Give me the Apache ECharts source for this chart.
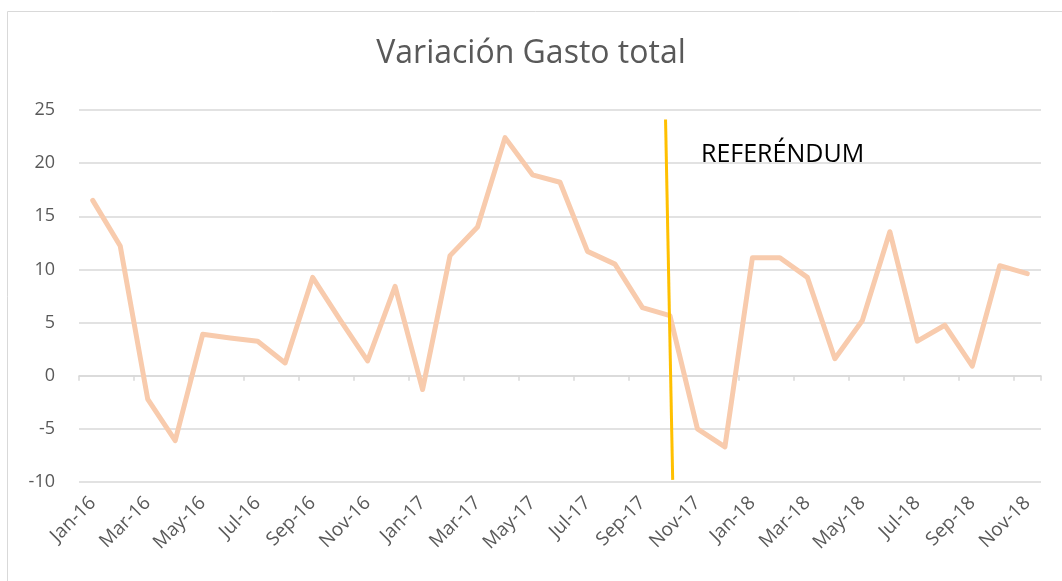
<!DOCTYPE html>
<html>
<head>
<meta charset="utf-8">
<title>Variación Gasto total</title>
<script src="https://cdn.jsdelivr.net/npm/echarts@6/dist/echarts.min.js"></script>
<style>
  html, body { margin: 0; padding: 0; background: #fff; }
  #chart { width: 1062px; height: 581px; }
</style>
</head>
<body>
<div id="chart"></div>
<script>
// meses (eje x)
var meses = [
    'Jan-16', 'Feb-16', 'Mar-16', 'Apr-16', 'May-16', 'Jun-16', 'Jul-16', 'Aug-16', 'Sep-16', 'Oct-16', 'Nov-16', 'Dec-16',
    'Jan-17', 'Feb-17', 'Mar-17', 'Apr-17', 'May-17', 'Jun-17', 'Jul-17', 'Aug-17', 'Sep-17', 'Oct-17', 'Nov-17', 'Dec-17',
    'Jan-18', 'Feb-18', 'Mar-18', 'Apr-18', 'May-18', 'Jun-18', 'Jul-18', 'Aug-18', 'Sep-18', 'Oct-18', 'Nov-18'
];
// variación gasto total (%)
var gastoTotal = [
    16.5, 12.2, -2.2, -6.1, 3.9, 3.55, 3.25, 1.2, 9.25, 5.25, 1.4, 8.4,
    -1.3, 11.3, 14.0, 22.4, 18.9, 18.2, 11.7, 10.5, 6.4, 5.65, -5.0, -6.7,
    11.1, 11.1, 9.25, 1.6, 5.2, 13.55, 3.25, 4.75, 0.9, 10.35, 9.6
];
// línea del referéndum [posición mes, valor]
var lineaReferendum = [[20.84, 24.1], [21.1, -9.8]];
var textoReferendum = 'REFERÉNDUM';

var chart = echarts.init(document.getElementById('chart'));
var fuente = '"Open Sans", sans-serif';

chart.setOption({
    animation: false,
    title: {
        text: 'Variación Gasto total',
        left: 'center',
        top: 33,
        textStyle: {
            fontFamily: fuente,
            fontSize: 32,
            fontWeight: 'normal',
            color: '#595959'
        }
    },
    grid: {
        left: 79,
        right: 21,
        top: 110,
        bottom: 99
    },
    xAxis: [{
        type: 'category',
        data: meses,
        position: 'bottom',
        axisLine: { show: false, onZero: false },
        axisTick: { show: false },
        splitLine: { show: false },
        axisLabel: {
            interval: 1,
            rotate: 45,
            margin: 18,
            fontFamily: fuente,
            fontSize: 19,
            color: '#595959'
        }
    }, {
        type: 'category',
        data: meses,
        position: 'bottom',
        axisLine: { show: true, onZero: true, lineStyle: { color: '#d9d9d9', width: 1.5 } },
        axisTick: { show: true, length: 5, lineStyle: { color: '#d9d9d9', width: 1.5 } },
        axisLabel: { show: false }
    }, {
        type: 'value',
        min: -0.5,
        max: 34.5,
        show: false
    }],
    yAxis: {
        type: 'value',
        min: -10,
        max: 25,
        interval: 5,
        axisLine: { show: false },
        axisTick: { show: false },
        splitLine: { lineStyle: { color: '#d9d9d9', width: 1.5 } },
        axisLabel: {
            margin: 24,
            fontFamily: fuente,
            fontSize: 18,
            color: '#595959'
        }
    },
    graphic: [{
        type: 'rect',
        silent: true,
        shape: { x: 7.5, y: 11.5, width: 1100, height: 620 },
        style: { fill: 'none', stroke: '#d9d9d9', lineWidth: 1 }
    }, {
        type: 'text',
        silent: true,
        style: {
            x: 701,
            y: 155,
            text: textoReferendum,
            verticalAlign: 'middle',
            fontFamily: fuente,
            fontSize: 25,
            fill: '#000'
        }
    }],
    series: [{
        name: 'Variación Gasto total',
        type: 'line',
        xAxisIndex: 0,
        data: gastoTotal,
        showSymbol: false,
        symbol: 'none',
        lineStyle: {
            color: '#F8CBAD',
            width: 5,
            cap: 'round',
            join: 'round'
        }
    }, {
        name: 'Referéndum',
        type: 'line',
        xAxisIndex: 2,
        data: lineaReferendum,
        symbol: 'none',
        lineStyle: {
            color: '#FFC000',
            width: 3
        }
    }]
});
</script>
</body>
</html>
